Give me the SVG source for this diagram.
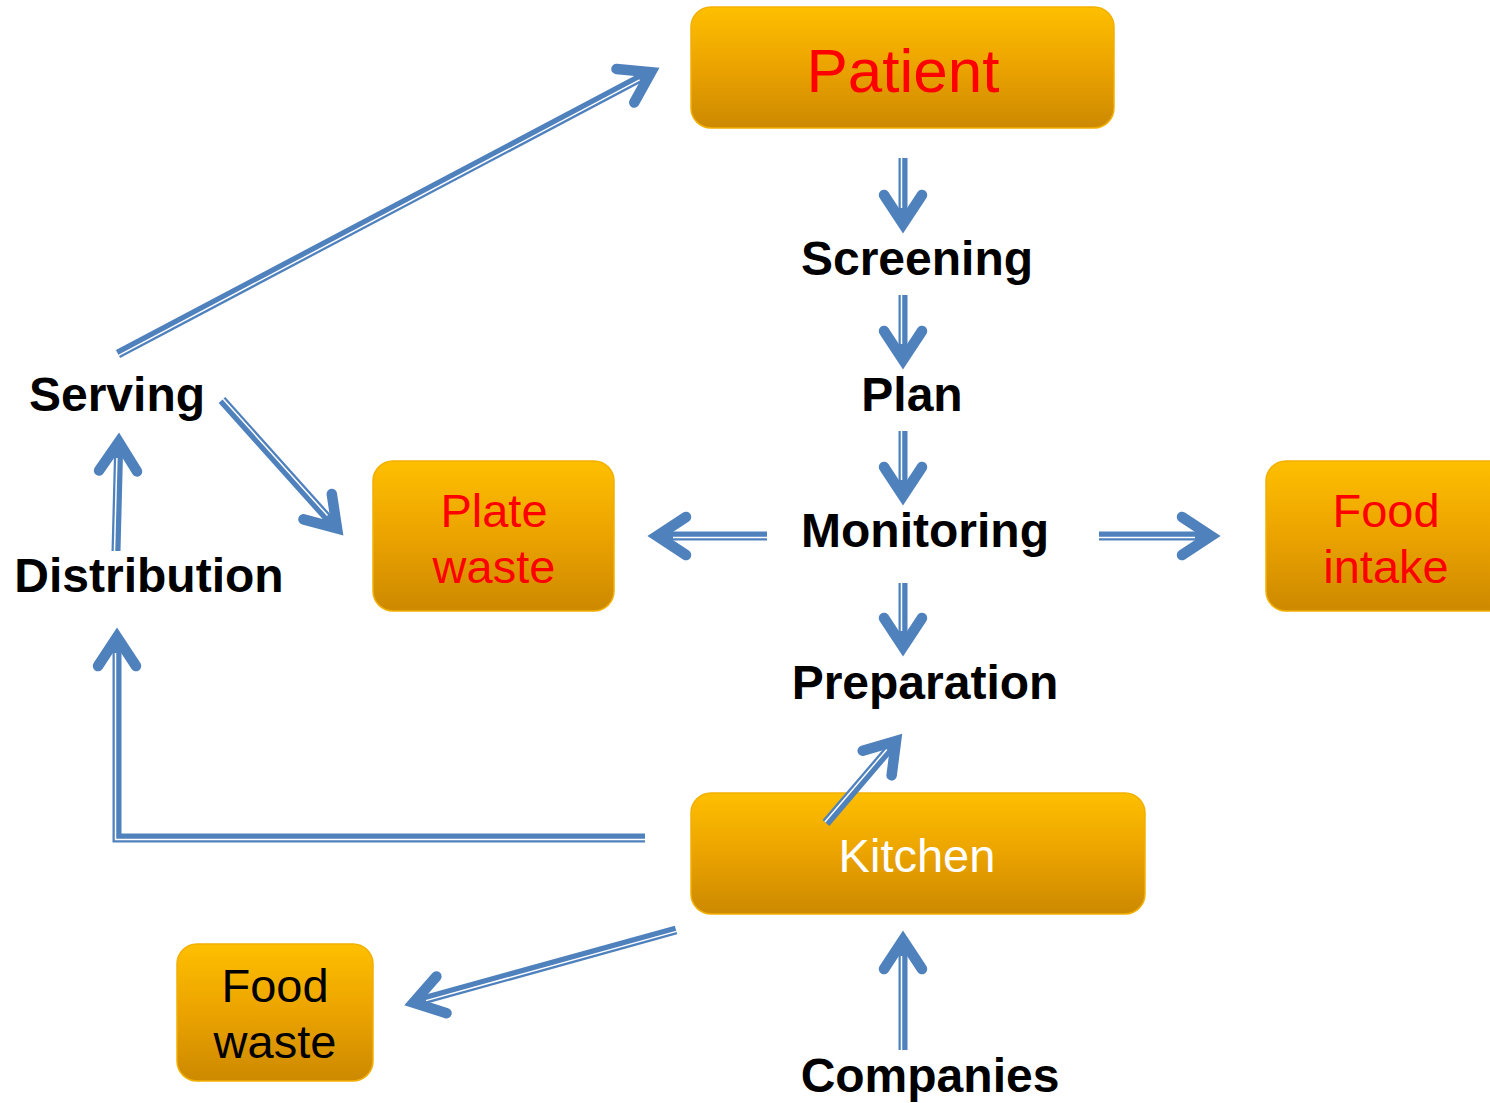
<svg xmlns="http://www.w3.org/2000/svg" width="1490" height="1103" viewBox="0 0 1490 1103">
  <defs>
    <linearGradient id="gold" x1="0" y1="0" x2="0" y2="1">
      <stop offset="0" stop-color="#FEBF00"/>
      <stop offset="0.5" stop-color="#EBA300"/>
      <stop offset="1" stop-color="#CD8900"/>
    </linearGradient>
    <marker id="head" markerUnits="userSpaceOnUse" markerWidth="80" markerHeight="80" viewBox="-40 -40 80 80" refX="0" refY="0" orient="auto" overflow="visible">
      <path d="M-29,-19 L0,0 L-29,19" fill="none" stroke="#4F81BD" stroke-width="10.5" stroke-linecap="round" stroke-linejoin="miter" stroke-miterlimit="6"/>
    </marker>
    <style>
      .box { fill: url(#gold); stroke: #F2B000; stroke-width: 1.5; }
      .shaft { fill: none; stroke: #4F81BD; stroke-width: 9; marker-end: url(#head); }
      .gap { fill: none; stroke: #FFFFFF; stroke-width: 1.5; }
      .lbl { font-family: "Liberation Sans", Arial, sans-serif; font-weight: bold; font-size: 48px; fill: #000000; text-anchor: middle; }
      .btxt { font-family: "Liberation Sans", Arial, sans-serif; font-size: 47px; text-anchor: middle; }
    </style>
  </defs>
  <rect width="1490" height="1103" fill="#FFFFFF"/>

  <g id="patient">
    <rect class="box" x="691" y="7" width="423" height="121" rx="20"/>
    <text class="btxt" x="903" y="92" style="font-size:62px" fill="#FF0000">Patient</text>
  </g>
  <g id="screening">
    <text class="lbl" x="917" y="275">Screening</text>
  </g>
  <g id="plan">
    <text class="lbl" x="912" y="411">Plan</text>
  </g>
  <g id="monitoring">
    <text class="lbl" x="925" y="547">Monitoring</text>
  </g>
  <g id="plate-waste">
    <rect class="box" x="373" y="461" width="241" height="150" rx="20"/>
    <text class="btxt" x="494" y="527" fill="#FF0000">Plate</text>
    <text class="btxt" x="494" y="583" fill="#FF0000">waste</text>
  </g>
  <g id="food-intake">
    <rect class="box" x="1266" y="461" width="250" height="150" rx="20"/>
    <text class="btxt" x="1386" y="527" fill="#FF0000">Food</text>
    <text class="btxt" x="1386" y="583" fill="#FF0000">intake</text>
  </g>
  <g id="preparation">
    <text class="lbl" x="925" y="699">Preparation</text>
  </g>
  <g id="kitchen">
    <rect class="box" x="691" y="793" width="454" height="121" rx="20"/>
    <text class="btxt" x="917" y="872" fill="#FFFFFF">Kitchen</text>
  </g>
  <g id="companies">
    <text class="lbl" x="930" y="1092">Companies</text>
  </g>
  <g id="food-waste">
    <rect class="box" x="177" y="944" width="196" height="137" rx="20"/>
    <text class="btxt" x="275" y="1002" fill="#000000">Food</text>
    <text class="btxt" x="275" y="1058" fill="#000000">waste</text>
  </g>
  <g id="serving">
    <text class="lbl" x="117" y="411">Serving</text>
  </g>
  <g id="distribution">
    <text class="lbl" x="149" y="592">Distribution</text>
  </g>

  <g id="connectors">
    <!-- Patient -> Screening -->
    <line class="shaft" x1="903" y1="158" x2="903" y2="224"/>
    <line class="gap" x1="901.5" y1="158" x2="901.5" y2="208"/>
    <!-- Screening -> Plan -->
    <line class="shaft" x1="903" y1="295" x2="903" y2="360"/>
    <line class="gap" x1="901.5" y1="295" x2="901.5" y2="344"/>
    <!-- Plan -> Monitoring -->
    <line class="shaft" x1="903" y1="431" x2="903" y2="496"/>
    <line class="gap" x1="901.5" y1="431" x2="901.5" y2="480"/>
    <!-- Monitoring -> Plate waste -->
    <line class="shaft" x1="767" y1="536" x2="657" y2="536"/>
    <line class="gap" x1="767" y1="537.5" x2="673" y2="537.5"/>
    <!-- Monitoring -> Food intake -->
    <line class="shaft" x1="1099" y1="536" x2="1211" y2="536"/>
    <line class="gap" x1="1099" y1="537.5" x2="1195" y2="537.5"/>
    <!-- Monitoring -> Preparation -->
    <line class="shaft" x1="903" y1="583" x2="903" y2="647"/>
    <line class="gap" x1="901.5" y1="583" x2="901.5" y2="631"/>
    <!-- Kitchen -> Preparation -->
    <line class="shaft" x1="826" y1="823" x2="896" y2="741"/>
    <line class="gap" x1="824.9" y1="822" x2="886.8" y2="749.5"/>
    <!-- Companies -> Kitchen -->
    <line class="shaft" x1="903" y1="1050" x2="903" y2="940"/>
    <line class="gap" x1="901.5" y1="1050" x2="901.5" y2="956"/>
    <!-- Kitchen -> Food waste -->
    <line class="shaft" x1="676" y1="930" x2="413.5" y2="1002.6"/>
    <line class="gap" x1="676.4" y1="931.4" x2="426" y2="1000.6"/>
    <!-- Kitchen -> Distribution (elbow) -->
    <path class="shaft" d="M645,838 L117,838 L117,637"/>
    <path class="gap" d="M645,839.5 L115.5,839.5 L115.5,653"/>
    <!-- Distribution -> Serving -->
    <line class="shaft" x1="116" y1="551" x2="118.8" y2="442"/>
    <line class="gap" x1="114.5" y1="551" x2="116.9" y2="458"/>
    <!-- Serving -> Plate waste -->
    <line class="shaft" x1="222" y1="400" x2="337" y2="528.3"/>
    <line class="gap" x1="223.1" y1="399" x2="327.5" y2="515.6"/>
    <!-- Serving -> Patient -->
    <line class="shaft" x1="118" y1="354" x2="651" y2="72.2"/>
    <line class="gap" x1="118.7" y1="355.3" x2="639.6" y2="79.9"/>
  </g>
</svg>
